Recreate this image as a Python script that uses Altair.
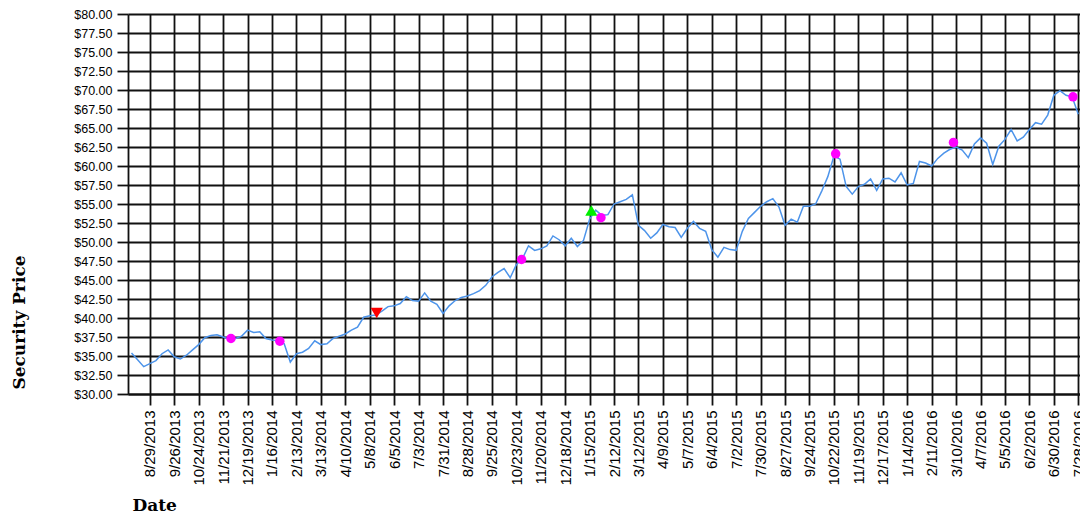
import altair as alt
import pandas as pd

# Weekly closing prices, starting 2013-08-08
prices = [
    35.4, 34.5, 33.6, 34.0, 34.4, 35.3, 35.8, 34.9, 34.6, 35.1,
    35.8, 36.5, 37.4, 37.7, 37.8, 37.5, 37.2, 37.3, 37.6, 38.4,
    38.1, 38.2, 37.3, 37.1, 37.0, 36.6, 34.2, 35.3, 35.5, 36.0,
    37.0, 36.5, 36.6, 37.3, 37.6, 37.9, 38.4, 38.8, 40.1, 40.3,
    40.4, 40.9, 41.5, 41.6, 41.9, 42.8, 42.3, 42.2, 43.3, 42.2,
    41.8, 40.6, 41.6, 42.3, 42.7, 42.9, 43.2, 43.6, 44.3, 45.4,
    46.0, 46.5, 45.3, 47.0, 47.8, 49.5, 48.9, 49.1, 49.5, 50.8,
    50.3, 49.5, 50.5, 49.4, 50.2, 53.0, 54.2, 53.5, 53.6, 55.0,
    55.3, 55.6, 56.2, 52.2, 51.5, 50.5, 51.2, 52.3, 52.0, 51.9,
    50.6, 51.8, 52.7, 51.8, 51.4, 49.0, 48.0, 49.3, 49.0, 48.9,
    51.4, 53.1, 53.9, 54.7, 55.3, 55.7, 54.6, 52.2, 53.0, 52.6,
    54.7, 54.7, 55.0, 56.7, 58.6, 61.3, 60.9, 57.3, 56.3, 57.3,
    57.6, 58.3, 56.8, 58.3, 58.4, 57.9, 59.1, 57.5, 57.7, 60.6,
    60.4, 60.0, 61.0, 61.7, 62.2, 62.5, 62.1, 61.1, 62.9, 63.7,
    63.0, 60.2, 62.6, 63.5, 64.8, 63.3, 63.8, 64.8, 65.7, 65.5,
    66.7, 69.3, 69.9, 69.3, 69.1, 66.8,
]
first_date = "2013-08-08"
dates = pd.date_range(first_date, periods=len(prices), freq="7D").strftime("%Y-%m-%d").tolist()

# Signal markers
circle_dates = ["2013-11-30", "2014-01-25", "2014-10-29", "2015-01-28",
                "2015-10-24", "2016-03-07", "2016-07-22"]
circle_prices = [37.3, 36.95, 47.7, 53.2, 61.6, 63.1, 69.1]
sell_dates = ["2014-05-16"]
sell_prices = [40.65]
buy_dates = ["2015-01-17"]
buy_prices = [54.15]

# Axis ticks
x_tick_dates = [
    "2013-08-29", "2013-09-26", "2013-10-24", "2013-11-21", "2013-12-19",
    "2014-01-16", "2014-02-13", "2014-03-13", "2014-04-10", "2014-05-08",
    "2014-06-05", "2014-07-03", "2014-07-31", "2014-08-28", "2014-09-25",
    "2014-10-23", "2014-11-20", "2014-12-18", "2015-01-15", "2015-02-12",
    "2015-03-12", "2015-04-09", "2015-05-07", "2015-06-04", "2015-07-02",
    "2015-07-30", "2015-08-27", "2015-09-24", "2015-10-22", "2015-11-19",
    "2015-12-17", "2016-01-14", "2016-02-11", "2016-03-10", "2016-04-07",
    "2016-05-05", "2016-06-02", "2016-06-30", "2016-07-28",
]
y_ticks = [30.0, 32.5, 35.0, 37.5, 40.0, 42.5, 45.0, 47.5, 50.0, 52.5,
           55.0, 57.5, 60.0, 62.5, 65.0, 67.5, 70.0, 72.5, 75.0, 77.5, 80.0]
x_domain = ["2013-08-04", "2016-07-30"]


def ms(d):
    return int(pd.Timestamp(d, tz="UTC").value // 10**6)


x_tick_ms = [ms(d) for d in x_tick_dates]
x_domain_ms = [ms(d) for d in x_domain]

line_df = pd.DataFrame({"date": dates, "price": prices})
circ_df = pd.DataFrame({"date": circle_dates, "price": circle_prices})
sell_df = pd.DataFrame({"date": sell_dates, "price": sell_prices})
buy_df = pd.DataFrame({"date": buy_dates, "price": buy_prices})

x_enc = alt.X(
    "date:T",
    scale=alt.Scale(type="utc", domain=x_domain_ms),
    axis=alt.Axis(
        values=x_tick_ms,
        tickCount=200,
        format="%-m/%-d/%Y",
        labelAngle=-90,
        labelFontSize=15,
        labelPadding=5,
        labelOverlap=False,
        labelFlush=False,
        title="Date",
        titleX=4,
        titleY=116,
        titleAlign="left",
        titleAnchor="start",
        titleBaseline="alphabetic",
    ),
)
y_enc = alt.Y(
    "price:Q",
    scale=alt.Scale(domain=[30, 80], nice=False, zero=False),
    axis=alt.Axis(
        values=y_ticks,
        tickCount=200,
        format="$.2f",
        labelFontSize=12.5,
        labelPadding=5,
        labelOverlap=False,
        title="Security Price",
        titleX=-104,
        titleY=308,
        titleAngle=-90,
        titleAlign="center",
        titleBaseline="alphabetic",
    ),
)

line = alt.Chart(line_df).mark_line(color="#4d94ea", strokeWidth=1.5).encode(x=x_enc, y=y_enc)
circles = alt.Chart(circ_df).mark_point(
    shape="circle", filled=True, color="#ff00ff", size=90, opacity=1
).encode(x=x_enc, y=y_enc)
sells = alt.Chart(sell_df).mark_point(
    shape="triangle-down", filled=True, color="#ff0000", size=150, opacity=1
).encode(x=x_enc, y=y_enc)
buys = alt.Chart(buy_df).mark_point(
    shape="triangle-up", filled=True, color="#00ee00", size=150, opacity=1
).encode(x=x_enc, y=y_enc)

chart = (
    alt.layer(line, circles, sells, buys)
    .properties(
        width=952,
        height=380,
        autosize=alt.AutoSizeParams(type="none"),
        padding={"left": 120, "top": 6, "right": 0, "bottom": 121},
    )
    .configure_view(strokeWidth=0)
    .configure_axis(
        grid=True,
        gridColor="#111111",
        gridWidth=1.8,
        gridOpacity=1,
        domainColor="#111111",
        domainWidth=1.8,
        tickColor="#111111",
        tickWidth=1.8,
        tickSize=11,
        labelFont="Liberation Sans",
        labelColor="#000000",
        titleFont="DejaVu Serif",
        titleFontSize=17,
        titleFontWeight="bold",
        titleColor="#000000",
    )
)

chart.save("out.html", embed_options={"renderer": "svg", "actions": False})
